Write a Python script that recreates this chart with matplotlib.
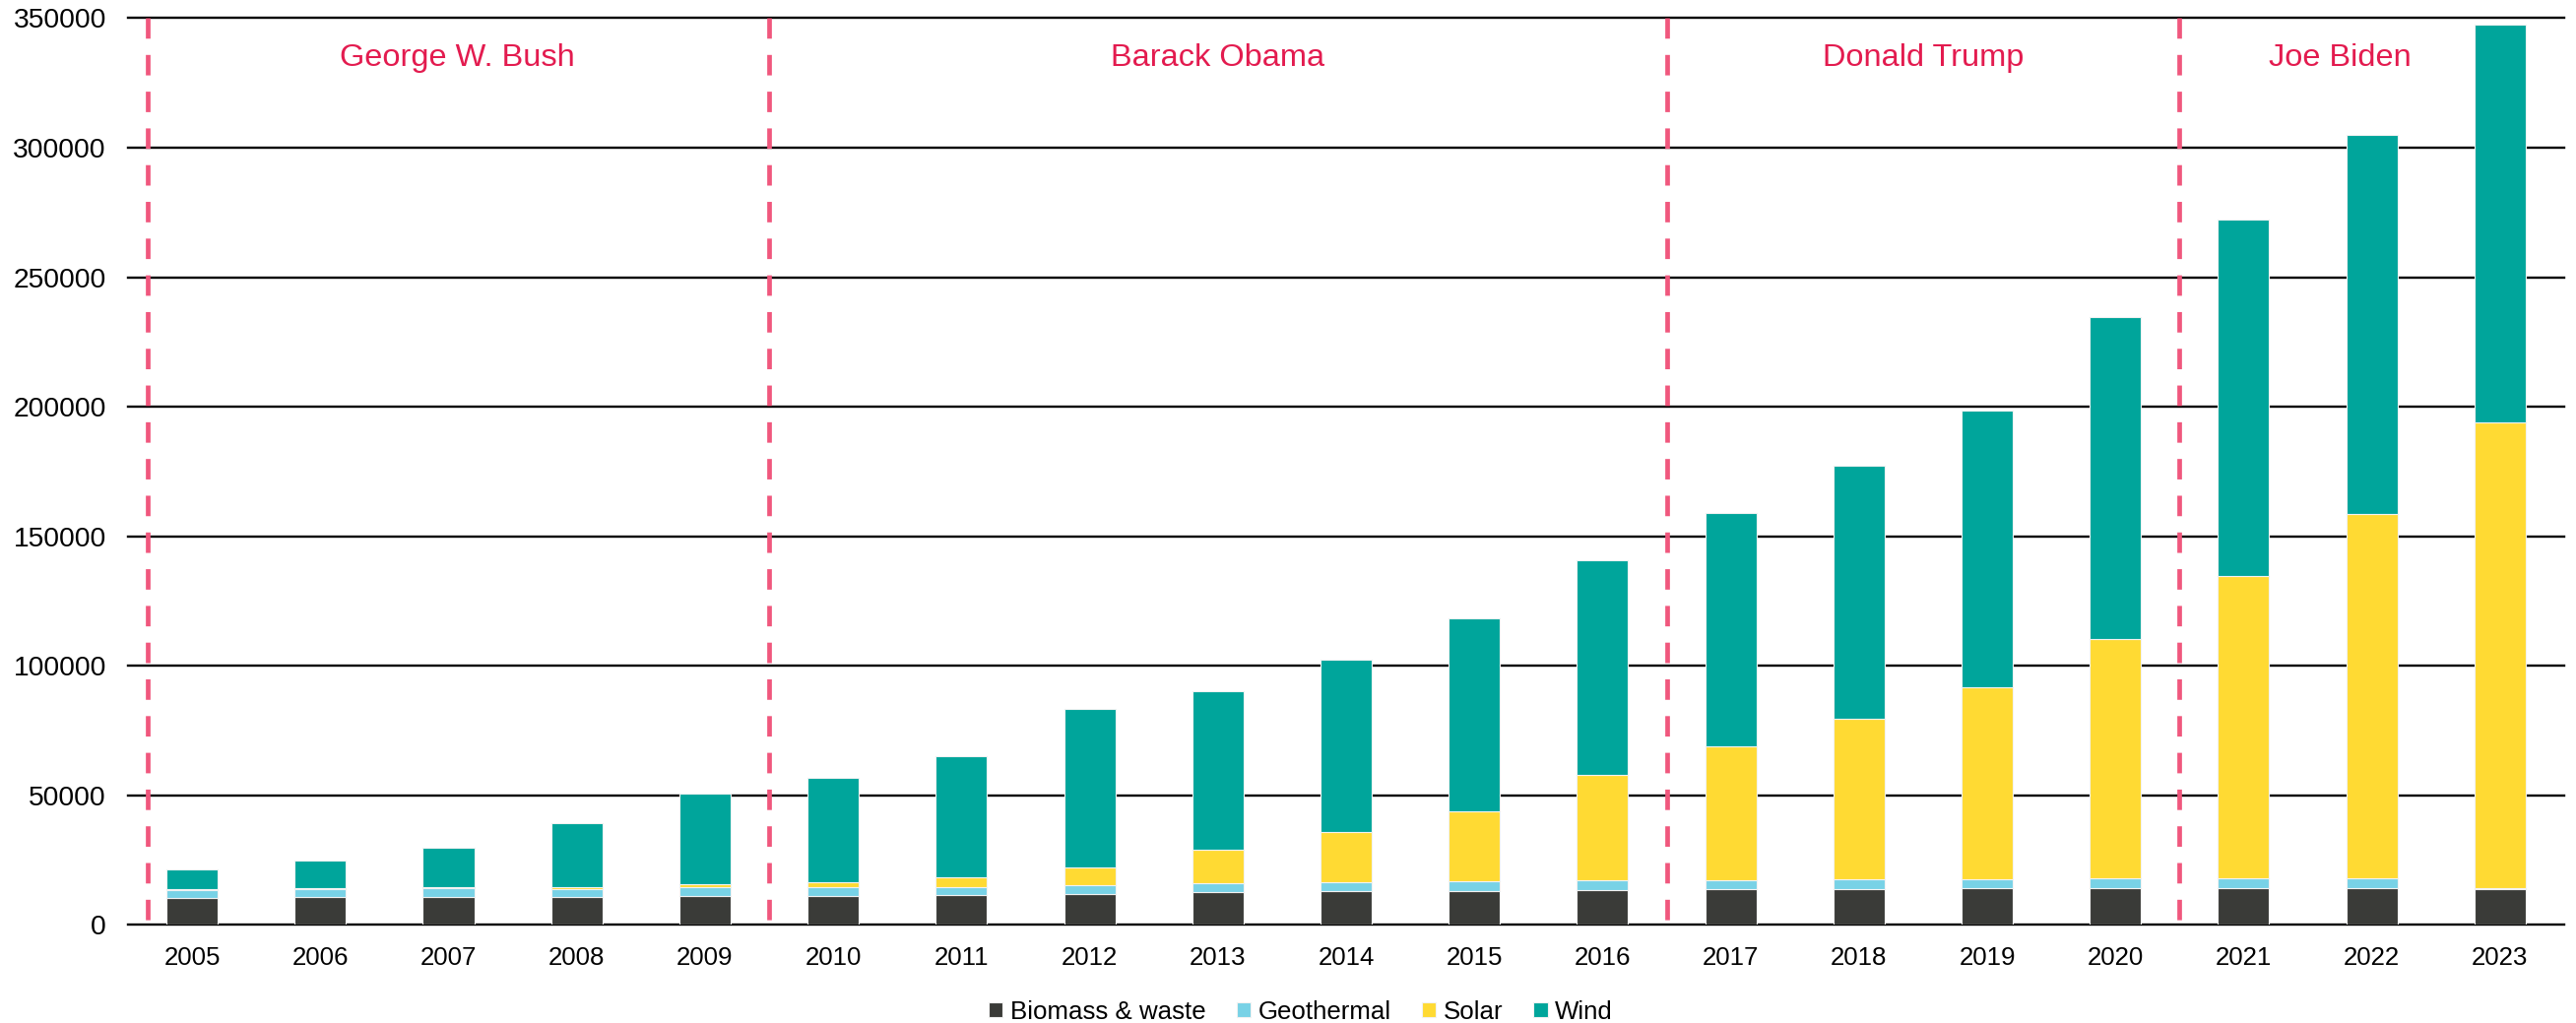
import numpy as np
import matplotlib
matplotlib.use('Agg')
import matplotlib.pyplot as plt

plt.rcParams['font.family'] = ['Liberation Sans', 'DejaVu Sans']

years = ['2005', '2006', '2007', '2008', '2009', '2010', '2011', '2012', '2013', '2014',
         '2015', '2016', '2017', '2018', '2019', '2020', '2021', '2022', '2023']

biomass = [10100, 10500, 10500, 10800, 11100, 11200, 11550, 11950, 12600, 12850,
           13100, 13300, 13550, 13800, 13900, 13900, 13900, 13900, 13700]
geothermal = [3200, 3200, 3400, 3050, 3200, 3300, 3050, 3450, 3550, 3650,
              3800, 3650, 3700, 3550, 3700, 3800, 3900, 3900, 400]
solar = [250, 300, 400, 750, 1150, 2000, 3600, 6850, 12850, 19400,
         26700, 40850, 51450, 62250, 74100, 92500, 116900, 140700, 179700]
wind = [7850, 10550, 15450, 24650, 35100, 40100, 46800, 60850, 61300, 66500,
        74700, 82800, 90400, 97700, 106900, 124400, 137400, 146400, 153800]

series = ['Biomass & waste', 'Geothermal', 'Solar', 'Wind']
colors = ['#3a3b38', '#78d2e6', '#ffda33', '#00a59b']

# presidential terms: boundaries between bars and where each name sits
term_lines = [-0.35, 4.5, 11.5, 15.5]
presidents = ['George W. Bush', 'Barack Obama', 'Donald Trump', 'Joe Biden']
president_x = [2.07, 8.0, 13.5, 16.75]

fig = plt.figure(figsize=(13.08, 5.195), dpi=200)
ax = fig.add_axes([0.0497, 0.0962, 0.9457, 0.886])

x = np.arange(len(years))
bottom = np.zeros(len(years))
for name, vals, c in zip(series, [biomass, geothermal, solar, wind], colors):
    ax.bar(x, vals, 0.4, bottom=bottom, color=c, label=name,
           edgecolor='#f2f2f2', linewidth=0.4, zorder=3)
    bottom += np.array(vals)

ax.set_xlim(-0.5, len(years) - 0.5)
ax.set_ylim(0, 350000)
ax.set_yticks(np.arange(0, 350001, 50000))
ax.set_yticklabels([str(v) for v in range(0, 350001, 50000)])
ax.set_xticks(x)
ax.set_xticklabels(years)
ax.tick_params(axis='both', length=0, colors='black')
ax.tick_params(axis='x', labelsize=9.3, pad=8)
ax.tick_params(axis='y', labelsize=10.2, pad=8)

for y in range(0, 350001, 50000):
    ax.axhline(y, color='black', linewidth=0.85, zorder=2, clip_on=False)
for s in ax.spines.values():
    s.set_visible(False)

for xl in term_lines:
    ax.plot([xl, xl], [350000, 0], color='#f0577d', linewidth=1.7,
            dashes=(4.4, 3.5), zorder=4, solid_capstyle='butt',
            dash_capstyle='butt')

for name, px in zip(presidents, president_x):
    ax.text(px, 334500, name, color='#e31b4f', fontsize=11.7,
            ha='center', va='center', zorder=5)

fig.legend(loc='center', bbox_to_anchor=(0.505, 0.011), ncol=4, frameon=False,
           fontsize=9.3, handlelength=0.55, handleheight=0.55,
           handletextpad=0.3, columnspacing=1.2, borderaxespad=0)

fig.savefig('out.png', dpi=200, facecolor='white')
